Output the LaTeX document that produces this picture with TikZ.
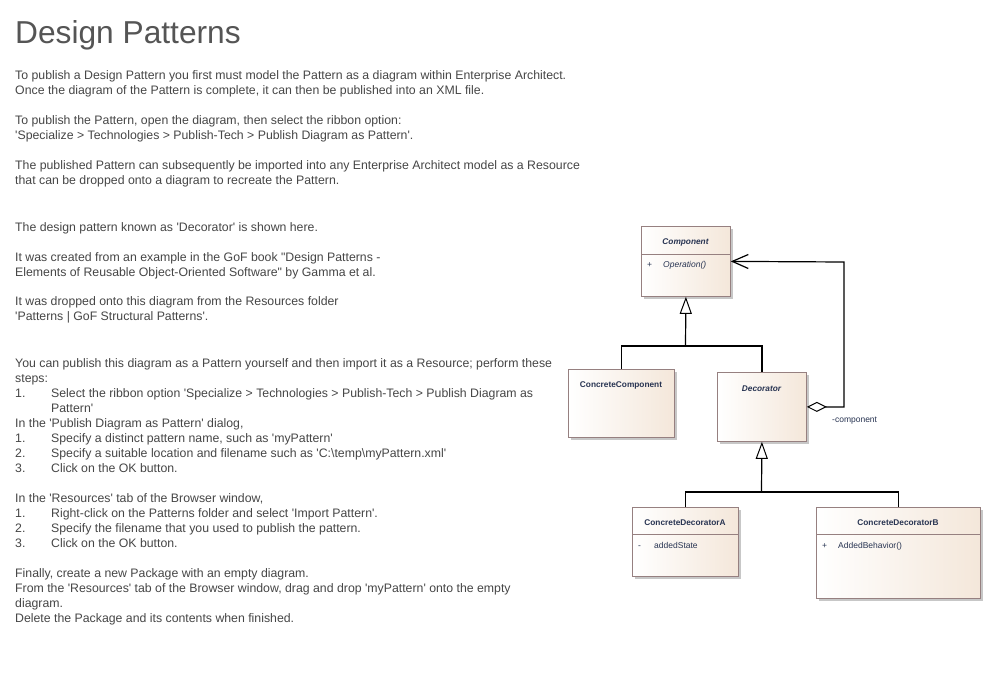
\documentclass[tikz,border=0pt]{standalone}
\usepackage{fontspec}
\setmainfont{Liberation Sans}
\usetikzlibrary{arrows.meta,shadows,calc}
\definecolor{txtgray}{RGB}{70,70,70}
\definecolor{titlegray}{RGB}{85,85,85}
\definecolor{umlborder}{RGB}{150,128,128}
\definecolor{umlfill}{RGB}{244,231,218}
\definecolor{umltext}{RGB}{40,52,82}
\newcommand{\sq}{\textquotesingle}
\newcommand{\dq}{\textquotedbl}
\begin{document}
\begin{tikzpicture}[x=1pt,y=-1pt,
  txt/.style={anchor=base west,inner sep=0pt,text=txtgray,font=\fontsize{12.3}{15}\selectfont},
  umlbox/.style={draw=umlborder,line width=0.8pt,anchor=north west,inner sep=0pt,
     left color=white,right color=umlfill,
     drop shadow={shadow xshift=2.5pt,shadow yshift=-2.5pt,fill=black!22,opacity=1}},
  umltitle/.style={anchor=base,inner sep=0pt,text=umltext,font=\fontsize{8.3}{10}\selectfont\bfseries},
  umlitem/.style={anchor=base west,inner sep=0pt,text=umltext,font=\fontsize{8.5}{10}\selectfont},
  divider/.style={draw=umlborder,line width=0.8pt},
  conn/.style={draw=black,line width=1.2pt},
  gen/.style={conn,-{Triangle[open,fill=white,length=17pt,width=12pt,line width=1pt]}},
  agg/.style={conn,{Diamond[open,fill=white,length=20pt,width=10pt,line width=1pt]}-{Straight Barb[length=16pt,width=14pt,line width=1.2pt]}}
]
\useasboundingbox (0,0) rectangle (991,676);
\fill[white] (0,0) rectangle (991,676);

% title
\node[anchor=base west,inner sep=0pt,text=titlegray,font=\fontsize{31.7}{36}\selectfont] (title) at (15,44) {Design Patterns};

% paragraphs
\node[txt] (t1) at (15,79.5) {To publish a Design Pattern you first must model the Pattern as a diagram within Enterprise Architect.};
\node[txt] (t2) at (15,94.5) {Once the diagram of the Pattern is complete, it can then be published into an XML file.};
\node[txt] (t3) at (15,124.5) {To publish the Pattern, open the diagram, then select the ribbon option:};
\node[txt] (t4) at (15,139.5) {\sq Specialize > Technologies > Publish-Tech > Publish Diagram as Pattern\sq.};
\node[txt] (t5) at (15,169.5) {The published Pattern can subsequently be imported into any Enterprise Architect model as a Resource};
\node[txt] (t6) at (15,184.5) {that can be dropped onto a diagram to recreate the Pattern.};
\node[txt] (t7) at (15,231.5) {The design pattern known as \sq Decorator\sq{} is shown here.};
\node[txt] (t8) at (15,261.5) {It was created from an example in the GoF book \dq Design Patterns -};
\node[txt] (t9) at (15,276.5) {Elements of Reusable Object-Oriented Software\dq{} by Gamma et al.};
\node[txt] (t10) at (15,305.5) {It was dropped onto this diagram from the Resources folder};
\node[txt] (t11) at (15,320.5) {\sq Patterns | GoF Structural Patterns\sq.};
\node[txt] (t12) at (15,367.5) {You can publish this diagram as a Pattern yourself and then import it as a Resource; perform these};
\node[txt] (t13) at (15,382.5) {steps:};
\node[txt] (n14) at (15,397.5) {1.};
\node[txt] (t14) at (51,397.5) {Select the ribbon option \sq Specialize > Technologies > Publish-Tech > Publish Diagram as};
\node[txt] (t15) at (51,412.5) {Pattern\sq};
\node[txt] (t16) at (15,427.5) {In the \sq Publish Diagram as Pattern\sq{} dialog,};
\node[txt] (n17) at (15,442.5) {1.};
\node[txt] (t17) at (51,442.5) {Specify a distinct pattern name, such as \sq myPattern\sq};
\node[txt] (n18) at (15,457.5) {2.};
\node[txt] (t18) at (51,457.5) {Specify a suitable location and filename such as \sq C:\textbackslash temp\textbackslash myPattern.xml\sq};
\node[txt] (n19) at (15,472.5) {3.};
\node[txt] (t19) at (51,472.5) {Click on the OK button.};
\node[txt] (t20) at (15,502.5) {In the \sq Resources\sq{} tab of the Browser window,};
\node[txt] (n21) at (15,517.5) {1.};
\node[txt] (t21) at (51,517.5) {Right-click on the Patterns folder and select \sq Import Pattern\sq.};
\node[txt] (n22) at (15,532.5) {2.};
\node[txt] (t22) at (51,532.5) {Specify the filename that you used to publish the pattern.};
\node[txt] (n23) at (15,547.5) {3.};
\node[txt] (t23) at (51,547.5) {Click on the OK button.};
\node[txt] (t24) at (15,577.5) {Finally, create a new Package with an empty diagram.};
\node[txt] (t25) at (15,592.5) {From the \sq Resources\sq{} tab of the Browser window, drag and drop \sq myPattern\sq{} onto the empty};
\node[txt] (t26) at (15,607.5) {diagram.};
\node[txt] (t27) at (15,622.5) {Delete the Package and its contents when finished.};

% UML classes
\node[umlbox,minimum width=89pt,minimum height=70pt] (comp) at (641,226) {};
\draw[divider] (641,254) -- (730,254);
\node[umltitle,font=\fontsize{8.3}{10}\selectfont\bfseries\itshape] (compT) at (685.5,244.5) {Component};
\node[umlitem] (compP) at (647,267.5) {+};
\node[umlitem,font=\fontsize{8.5}{10}\selectfont\itshape] (compO) at (663,267.5) {Operation()};

\node[umlbox,minimum width=106pt,minimum height=68pt] (cc) at (568,369) {};
\node[umltitle] (ccT) at (621,387.5) {ConcreteComponent};

\node[umlbox,minimum width=89pt,minimum height=69pt] (dec) at (717,372) {};
\node[umltitle,font=\fontsize{8.3}{10}\selectfont\bfseries\itshape] (decT) at (761.5,391.5) {Decorator};

\node[umlbox,minimum width=106pt,minimum height=69pt] (cda) at (632,507) {};
\draw[divider] (632,534) -- (738,534);
\node[umltitle] (cdaT) at (685,525.5) {ConcreteDecoratorA};
\node[umlitem] (cdaM) at (638,548.5) {-};
\node[umlitem] (cdaS) at (654,548.5) {addedState};

\node[umlbox,minimum width=164pt,minimum height=91pt] (cdb) at (816,507) {};
\draw[divider] (816,534) -- (980,534);
\node[umltitle] (cdbT) at (898,525.5) {ConcreteDecoratorB};
\node[umlitem] (cdbP) at (822,548.5) {+};
\node[umlitem] (cdbB) at (838,548.5) {AddedBehavior()};

% connectors
\coordinate (j1) at (685.5,346);
\coordinate (j2) at (761.5,492);
\coordinate (ag) at (844,262);
\draw[conn] (cc.north) |- (j1);
\draw[conn] (dec.north) |- (j1);
\draw[gen] (j1) -- (comp.south);
\draw[conn] (cda.north) |- (j2);
\draw[conn] (cdb.north) |- (j2);
\draw[gen] (j2) -- (dec.south);
\draw[agg] (dec.east) -| (ag) -- (comp.east);
\node[umlitem] (rolelbl) at (832,422) {-component};
\end{tikzpicture}
\end{document}
